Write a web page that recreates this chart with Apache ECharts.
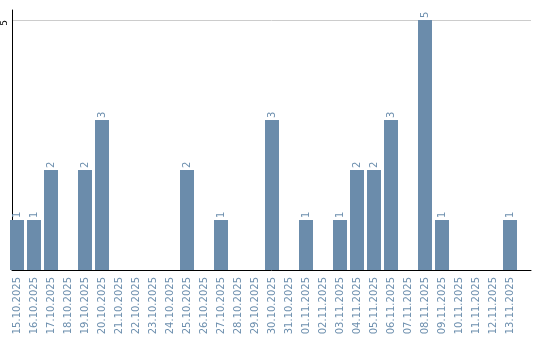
<!DOCTYPE html>
<html><head><meta charset="utf-8">
<script src="https://cdn.jsdelivr.net/npm/echarts@6/dist/echarts.min.js"></script>
<style>html,body{margin:0;padding:0;background:#fff}#c{width:540px;height:340px}</style>
</head><body><div id="c"></div>
<script>
const categories = ["15.10.2025","16.10.2025","17.10.2025","18.10.2025","19.10.2025","20.10.2025","21.10.2025","22.10.2025","23.10.2025","24.10.2025","25.10.2025","26.10.2025","27.10.2025","28.10.2025","29.10.2025","30.10.2025","31.10.2025","01.11.2025","02.11.2025","03.11.2025","04.11.2025","05.11.2025","06.11.2025","07.11.2025","08.11.2025","09.11.2025","10.11.2025","11.11.2025","12.11.2025","13.11.2025"];
const values = [1,1,2,0,2,3,0,0,0,0,2,0,1,0,0,3,0,1,0,1,2,2,3,0,5,1,0,0,0,1];
const yMax = 5.2;
const yTick = 5;

const chart = echarts.init(document.getElementById('c'), null, {renderer:'canvas'});
chart.setOption({
  animation:false,
  grid:[
    {left:10, right:9, top:10, bottom:70},
    {left:8.5, width:510, top:10, bottom:70}
  ],
  xAxis:[
    {gridIndex:0, type:'value', min:0, max:1, axisLine:{show:true, lineStyle:{color:'#000', width:1}}, axisTick:{show:false}, axisLabel:{show:false}, splitLine:{show:false}},
    {gridIndex:1, type:'category', data:categories, axisLine:{show:false}, axisTick:{show:false},
     axisLabel:{rotate:90, interval:0, margin:7, color:'#6d8fae', fontFamily:'DejaVu Sans', fontSize:10}}
  ],
  yAxis:[
    {gridIndex:0, type:'value', min:0, max:yMax, interval:yTick, axisLine:{show:true, lineStyle:{color:'#000', width:1}}, axisTick:{show:false},
     axisLabel:{rotate:90, margin:3, align:'right', color:'#000', fontFamily:'DejaVu Sans', fontSize:9, formatter:v=> v===yTick?String(v):'', showMaxLabel:false},
     splitLine:{show:true, showMinLine:false, showMaxLine:false, lineStyle:{color:'#cccccc', width:1}}},
    {gridIndex:1, type:'value', min:0, max:yMax, show:false}
  ],
  series:[{
    type:'bar', xAxisIndex:1, yAxisIndex:1, data:values, barWidth:14,
    itemStyle:{color:'#6b8cab'},
    label:{show:true, position:'top', rotate:90, align:'left', verticalAlign:'middle', distance:2,
      color:'#6d8fae', fontFamily:'DejaVu Sans', fontSize:10, formatter:p=> p.value>0?String(p.value):''}
  }]
});
</script></body></html>
